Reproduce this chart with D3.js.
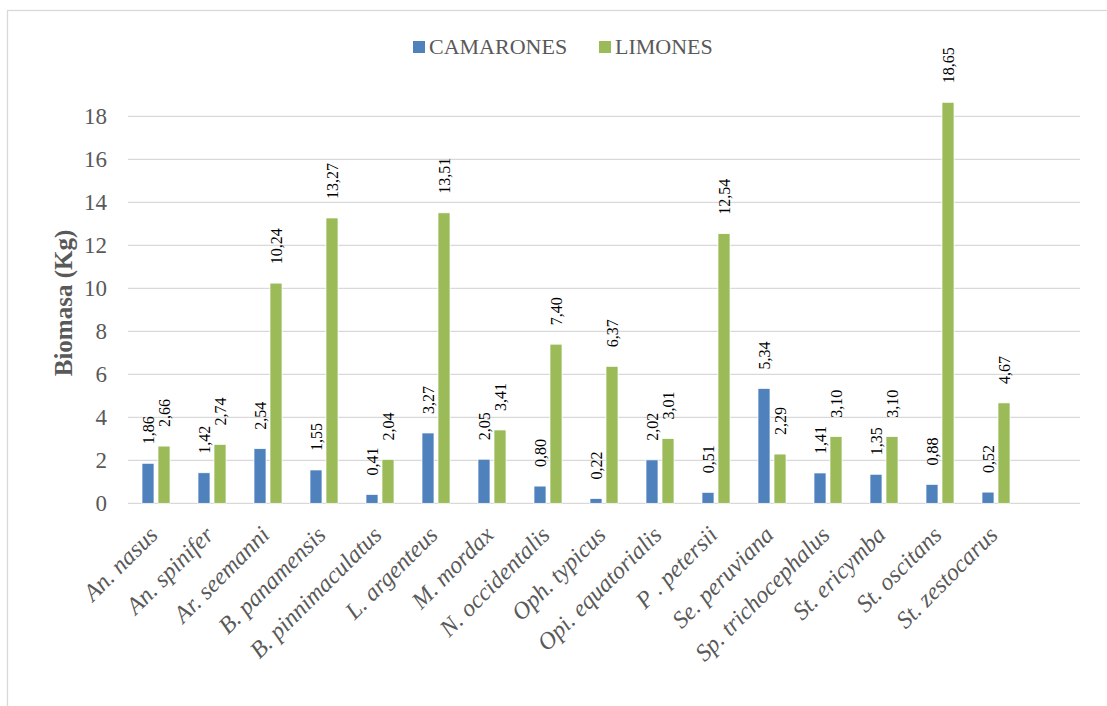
<!DOCTYPE html>
<html>
<head>
<meta charset="utf-8">
<script src="https://cdn.jsdelivr.net/npm/d3@7"></script>
<style>
  body { margin: 0; background: #fff; }
  svg { font-family: "Liberation Serif", "Times New Roman", serif; }
</style>
</head>
<body>
<div class="chart"></div>
<script>
const species = ["An. nasus", "An. spinifer", "Ar. seemanni", "B. panamensis", "B. pinnimaculatus",
  "L. argenteus", "M. mordax", "N. occidentalis", "Oph. typicus", "Opi. equatorialis",
  "P . petersii", "Se. peruviana", "Sp. trichocephalus", "St. ericymba", "St. oscitans", "St. zestocarus"];
const camarones = [1.86, 1.42, 2.54, 1.55, 0.41, 3.27, 2.05, 0.80, 0.22, 2.02, 0.51, 5.34, 1.41, 1.35, 0.88, 0.52];
const limones = [2.66, 2.74, 10.24, 13.27, 2.04, 13.51, 3.41, 7.40, 6.37, 3.01, 12.54, 2.29, 3.10, 3.10, 18.65, 4.67];
const seriesNames = ["CAMARONES", "LIMONES"];
const yTicks = [0, 2, 4, 6, 8, 10, 12, 14, 16, 18];

const width = 1107;
const height = 706;
const colors = ["#4F81BD", "#9BBB59"];
const plot = {left: 128, right: 1080, top: 116.3, bottom: 503.3};

const svg = d3.select(".chart")
  .append("svg")
  .attr("width", width)
  .attr("height", height);

// outer chart border
svg.append("rect")
  .attr("x", 7.5).attr("y", 10.5)
  .attr("width", width + 10).attr("height", height + 10)
  .attr("fill", "none")
  .attr("stroke", "#D9D9D9")
  .attr("stroke-width", 1.3);

const y = d3.scaleLinear()
  .domain([0, 18])
  .range([plot.bottom, plot.top]);

// 16 species + one empty slot at the end, like the original
const slot = (plot.right - plot.left) / (species.length + 1);
const x = d3.scaleBand()
  .domain(species)
  .range([plot.left, plot.left + slot * species.length]);

const inner = d3.scaleBand()
  .domain([0, 1])
  .range([-14, 14])
  .paddingInner(0.25);

// gridlines
svg.append("g")
  .selectAll("line")
  .data(yTicks)
  .join("line")
  .attr("x1", plot.left)
  .attr("x2", plot.right)
  .attr("y1", d => y(d))
  .attr("y2", d => y(d))
  .attr("stroke", "#D9D9D9")
  .attr("stroke-width", 1.3);

// y axis labels
const yAxis = svg.append("g")
  .attr("transform", `translate(${plot.left - 21},0)`)
  .call(d3.axisLeft(y).tickValues(yTicks).tickSize(0).tickPadding(0));
yAxis.select(".domain").remove();
yAxis.selectAll("text")
  .attr("font-family", "Liberation Serif")
  .attr("font-size", 23)
  .attr("fill", "#595959");

svg.append("text")
  .attr("transform", `translate(72,303) rotate(-90)`)
  .attr("text-anchor", "middle")
  .attr("font-size", 25)
  .attr("font-weight", "bold")
  .attr("fill", "#595959")
  .text("Biomasa (Kg)");

// bars
const fmt = v => d3.format(".2f")(v).replace(".", ",");
const series = [camarones, limones];

series.forEach((vals, si) => {
  const g = svg.append("g");
  const pos = i => x(species[i]) + x.bandwidth() / 2 + inner(si);
  g.selectAll("rect")
    .data(vals)
    .join("rect")
    .attr("x", (d, i) => pos(i))
    .attr("y", d => y(d))
    .attr("width", inner.bandwidth())
    .attr("height", d => y(0) - y(d))
    .attr("fill", colors[si])
    .attr("stroke", "#fff")
    .attr("stroke-width", 0.7);

  g.selectAll("text")
    .data(vals)
    .join("text")
    .attr("transform", (d, i) =>
      `translate(${pos(i) + inner.bandwidth() / 2},${y(d) - 19}) rotate(-90)`)
    .attr("dy", "0.35em")
    .attr("font-size", 16)
    .attr("fill", "#000")
    .text(d => fmt(d));
});

// x axis labels
const xAxis = svg.append("g")
  .attr("transform", `translate(0,${plot.bottom})`)
  .call(d3.axisBottom(x).tickSize(0).tickPadding(0));
xAxis.select(".domain").remove();
xAxis.selectAll("text")
  .attr("font-family", "Liberation Serif")
  .attr("font-style", "italic")
  .attr("font-size", 24)
  .attr("fill", "#595959")
  .attr("text-anchor", "end")
  .attr("dy", null)
  .attr("y", 0)
  .attr("transform", "translate(3,33) rotate(-45)");

// legend
const legend = svg.append("g")
  .selectAll("g")
  .data(seriesNames)
  .join("g")
  .attr("transform", (d, i) => `translate(${[413, 599][i]},41)`);
legend.append("rect")
  .attr("width", 12)
  .attr("height", 12)
  .attr("fill", (d, i) => colors[i]);
legend.append("text")
  .attr("x", 16)
  .attr("y", 13)
  .attr("font-size", 22)
  .attr("fill", "#595959")
  .text(d => d);
</script>
</body>
</html>
